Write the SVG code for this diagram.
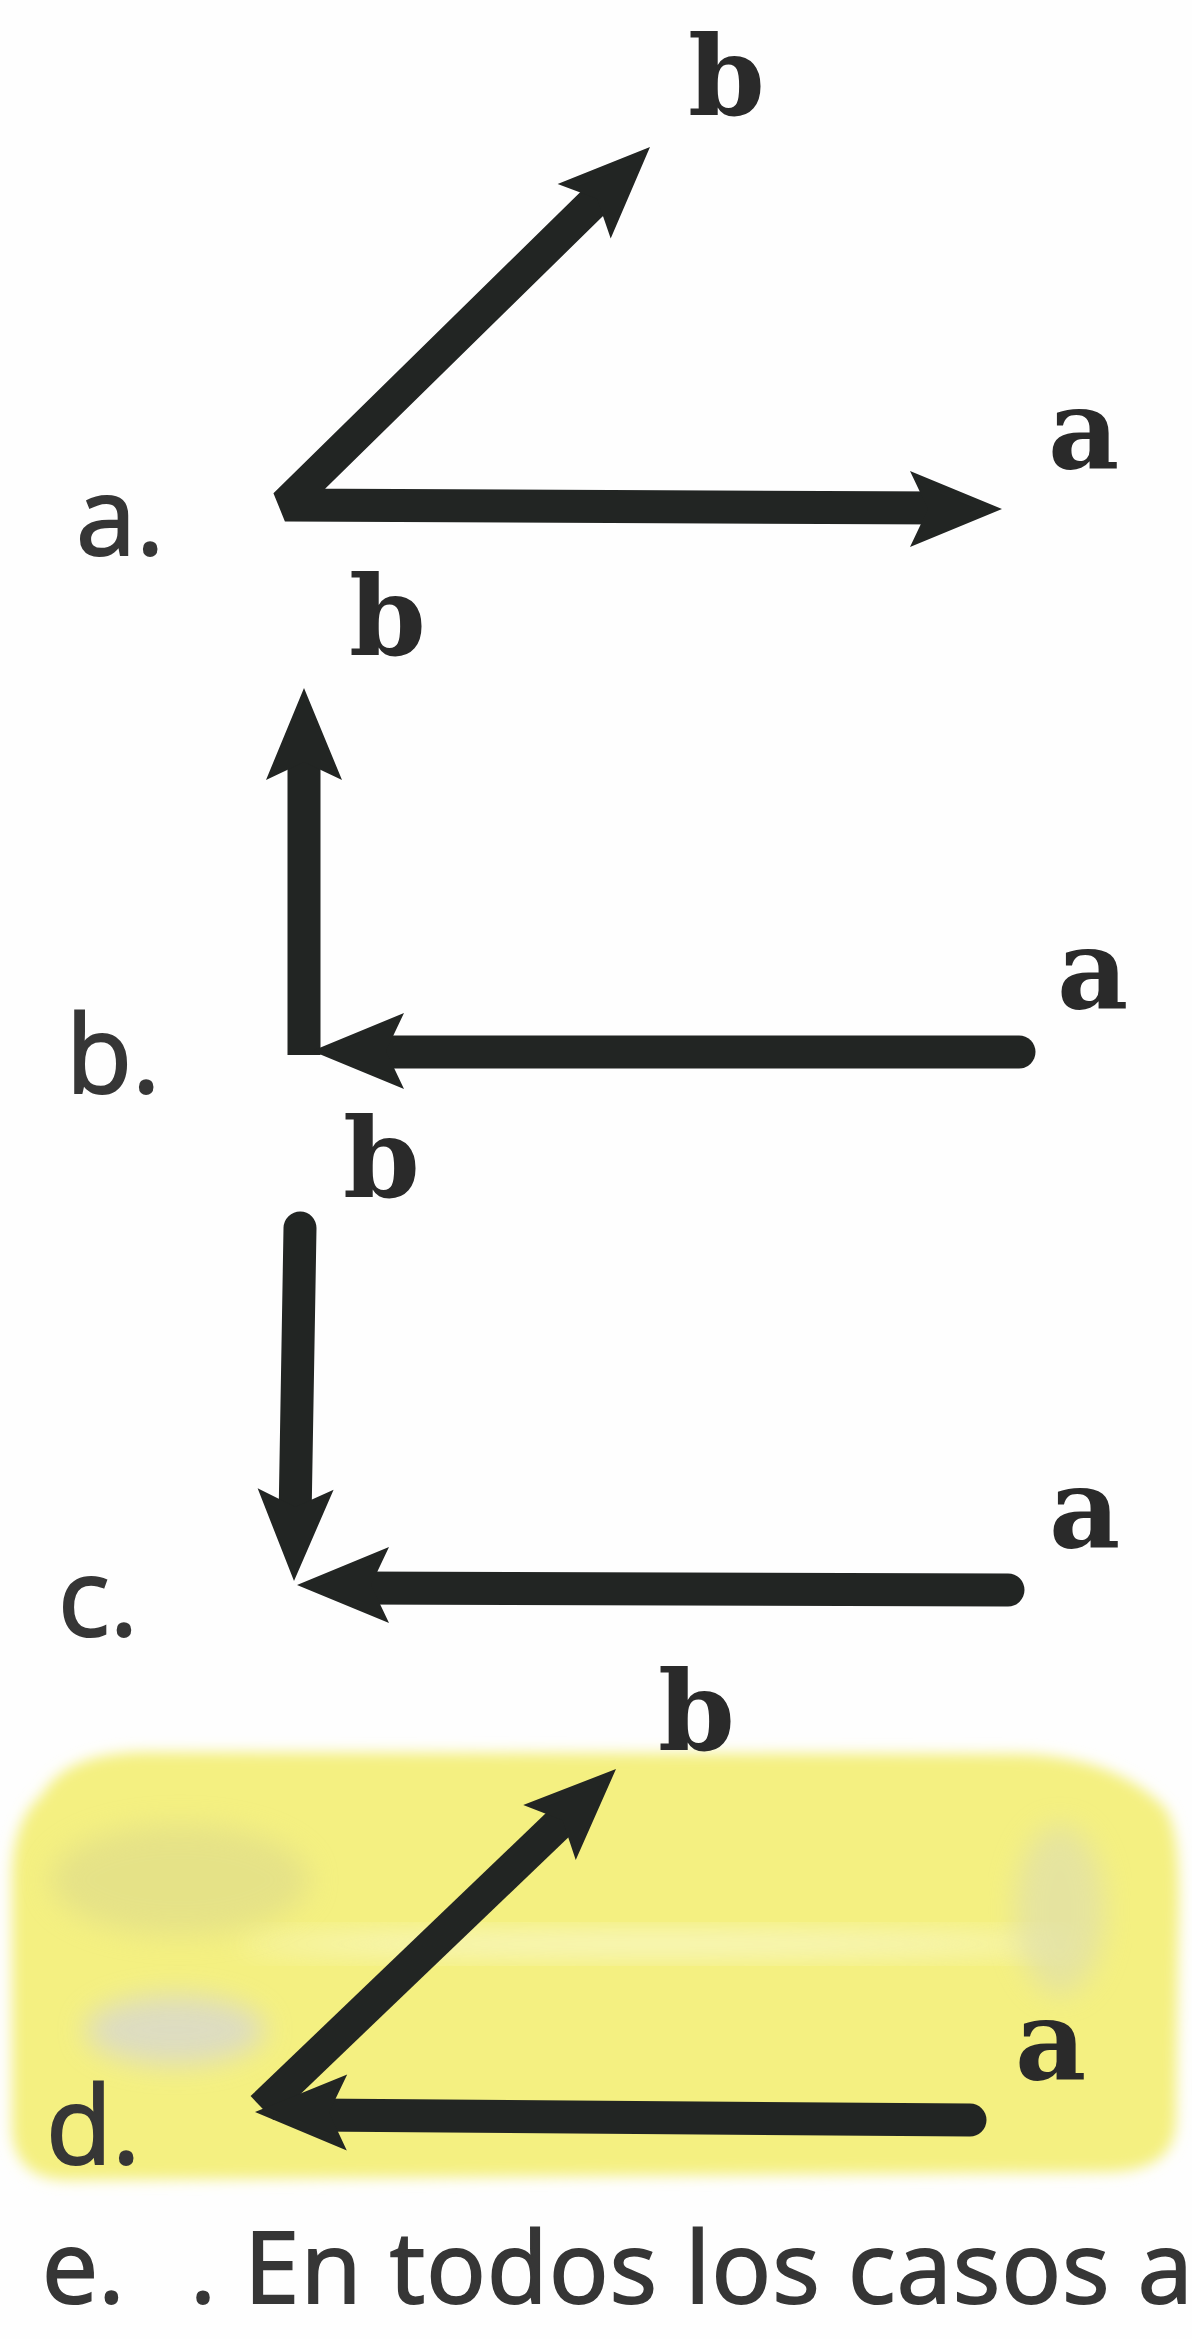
<svg xmlns="http://www.w3.org/2000/svg" xmlns:xlink="http://www.w3.org/1999/xlink" width="1192" height="2339" viewBox="0 0 1192 2339">
  <style>
    .shaft { fill: none; stroke: #222523; stroke-width: 33; stroke-linecap: round; stroke-linejoin: bevel; }
    .head { fill: #222523; }
    .vec { font-family: "DejaVu Serif", "Liberation Serif", serif; font-weight: bold; font-size: 110px; fill: #2a2a2a; }
    .opt { font-family: "Open Sans", "Liberation Sans", sans-serif; font-size: 108px; fill: #363636; stroke: #363636; stroke-width: 2px; }
  </style>
  <defs>
    <path id="ah" d="M0,0 L-92,-38 L-74,0 L-92,38 Z"/>
    <filter id="soft" x="-10%" y="-10%" width="120%" height="120%">
      <feGaussianBlur stdDeviation="7"/>
    </filter>
    <filter id="soft2" x="-30%" y="-60%" width="160%" height="220%">
      <feGaussianBlur stdDeviation="14"/>
    </filter>
  </defs>
  <rect width="1192" height="2339" fill="#fefefe"/>

  <!-- yellow highlight behind option d -->
  <g id="highlight">
    <path d="M42,1795 C60,1764 95,1754 140,1752 L1020,1754 C1080,1756 1130,1772 1165,1808 C1180,1832 1180,1880 1178,1950 L1176,2120 C1175,2158 1150,2170 1110,2172 L70,2180 C35,2180 14,2165 12,2130 L12,1880 C12,1840 22,1812 42,1795 Z" fill="#f4f081" filter="url(#soft)"/>
    <ellipse cx="660" cy="1944" rx="420" ry="10" fill="#fbfbe6" opacity="0.8" filter="url(#soft2)"/>
    <ellipse cx="175" cy="2030" rx="90" ry="35" fill="#d9d9cc" opacity="0.85" filter="url(#soft2)"/>
    <ellipse cx="180" cy="1880" rx="130" ry="55" fill="#dcd98c" opacity="0.6" filter="url(#soft2)"/>
    <ellipse cx="1060" cy="1910" rx="45" ry="85" fill="#dcdcb4" opacity="0.6" filter="url(#soft2)"/>
  </g>

  <!-- connectors (vectors) -->
  <g id="connectors">
    <!-- a. -->
    <path class="shaft" d="M607,189 L285,505 L945,508" style="stroke-linecap:butt"/>
    <use href="#ah" class="head" transform="translate(1002,509)"/>
    <use href="#ah" class="head" transform="translate(650,147) rotate(-44.3)"/>

    <!-- b. -->
    <path class="shaft" d="M304,745 L304,1055" style="stroke-linecap:butt"/>
    <use href="#ah" class="head" transform="translate(304,688) rotate(-90)"/>
    <path class="shaft" d="M1019,1052 L370,1052"/>
    <use href="#ah" class="head" transform="translate(312,1051) rotate(180)"/>

    <!-- c. -->
    <path class="shaft" d="M300,1228 L295,1520"/>
    <use href="#ah" class="head" transform="translate(294,1581) rotate(91)"/>
    <path class="shaft" d="M1008,1590 L355,1588"/>
    <use href="#ah" class="head" transform="translate(297,1585) rotate(180)"/>

    <!-- d. -->
    <path class="shaft" d="M573,1810 L262,2108" style="stroke-linecap:butt"/>
    <use href="#ah" class="head" transform="translate(616,1769) rotate(-43.7)"/>
    <path class="shaft" d="M970,2120 L315,2115"/>
    <use href="#ah" class="head" transform="translate(255,2112) rotate(180.3)"/>
  </g>

  <!-- option labels -->
  <g id="option-a">
    <text class="opt" x="76" y="555">a.</text>
    <text class="vec" x="688" y="115">b</text>
    <text class="vec" x="1048" y="468">a</text>
  </g>
  <g id="option-b">
    <text class="opt" x="66" y="1093">b.</text>
    <text class="vec" x="349" y="655">b</text>
    <text class="vec" x="1057" y="1008">a</text>
  </g>
  <g id="option-c">
    <text class="opt" x="58" y="1636">c.</text>
    <text class="vec" x="343" y="1197">b</text>
    <text class="vec" x="1049" y="1547">a</text>
  </g>
  <g id="option-d">
    <text class="opt" x="46" y="2164">d.</text>
    <text class="vec" x="658" y="1750">b</text>
    <text class="vec" x="1015" y="2079">a</text>
  </g>
  <g id="option-e">
    <text class="opt" x="42" y="2303" style="font-size:100px">e.</text>
    <text class="opt" x="190" y="2303" style="font-size:99px;letter-spacing:1.3px">. En todos los casos a</text>
  </g>
</svg>
